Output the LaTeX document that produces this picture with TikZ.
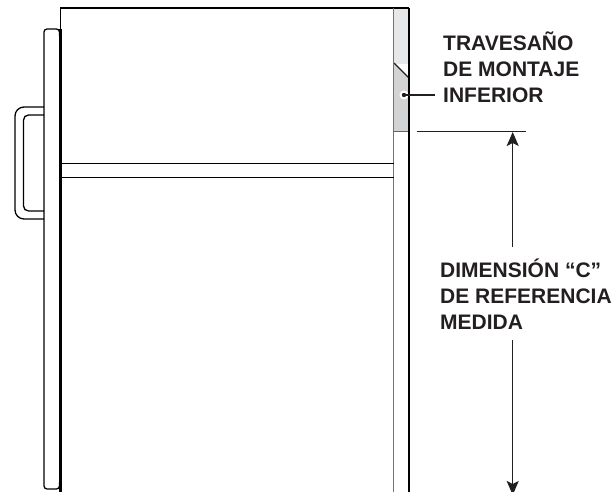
\documentclass[tikz,border=0pt]{standalone}
\usepackage{fontspec}
\setmainfont{Liberation Sans}
\usetikzlibrary{arrows.meta}
\definecolor{lightrail}{RGB}{230,231,232}
\definecolor{darkrail}{RGB}{209,211,212}
\definecolor{inkgray}{RGB}{35,31,32}
\tikzset{
  labeltext/.style={font=\bfseries\fontsize{21}{25.8}\selectfont,align=left,anchor=north west,inner sep=0pt,text=inkgray},
  dimline/.style={draw=inkgray,line width=1.2pt,-{Stealth[length=14pt,width=12pt,inset=3pt]}},
  thickline/.style={line width=1.8pt,black},
  thinline/.style={line width=1.3pt,black}
}
\begin{document}
\begin{tikzpicture}[x=1pt,y=-1pt]
  \useasboundingbox (0,0) rectangle (614,492);
  % gray rail
  \fill[lightrail] (394,8) rectangle (409,64);
  \fill[darkrail] (394,63) -- (409,78) -- (409,131.5) -- (394,131.5) -- cycle;
  \draw[thinline,inkgray] (394,63) -- (409,78);
  \draw[thinline,inkgray!70] (394,131.5) -- (409,131.5);
  % cabinet
  \draw[thinline] (60.5,29) -- (60.5,8) -- (409,8);
  \draw[line width=2.2pt] (60.5,29) -- (60.5,492);
  \draw[line width=1.4pt,black!55] (393.7,8) -- (393.7,492);
  \draw[thickline] (409,8) -- (409,492);
  % cross bar
  \draw[thinline] (60.5,163.5) -- (393.7,163.5);
  \draw[thinline] (60.5,177.5) -- (393.7,177.5);
  % door panel
  \draw[thinline,rounded corners=3pt] (59.5,36) -- (59.5,29) -- (44,29) -- (44,489) -- (59.5,489) -- (59.5,482);
  % handle
  \draw[thinline,rounded corners=9pt] (44,107) -- (15,107) -- (15,219) -- (44,219);
  \draw[thinline,rounded corners=5pt] (44,115) -- (23.5,115) -- (23.5,211) -- (44,211);
  % labels
  \node[labeltext] (montaje) at (443,32) {TRAVESAÑO\\DE MONTAJE\\INFERIOR};
  \node[labeltext] (dimension) at (440,259) {DIMENSIÓN “C”\\DE REFERENCIA\\MEDIDA};
  % leader
  \fill[white] (404,95) circle (4.5);
  \fill[inkgray] (404,95) circle (2.2);
  \coordinate (dot) at (404,95);
  \coordinate (leaderend) at (435,95);
  \draw[line width=1.2pt,inkgray] (dot) -- (leaderend);
  % dimension
  \coordinate (reftop1) at (417,131.5);
  \coordinate (reftop2) at (525.5,131.5);
  \draw[line width=1.2pt,inkgray] (reftop1) -- (reftop2);
  \coordinate (upfrom) at (512.7,247);
  \coordinate (upto) at (512.7,132);
  \coordinate (downfrom) at (512.7,340);
  \coordinate (downto) at (512.7,495);
  \draw[dimline] (upfrom) -- (upto);
  \draw[dimline] (downfrom) -- (downto);
\end{tikzpicture}
\end{document}
